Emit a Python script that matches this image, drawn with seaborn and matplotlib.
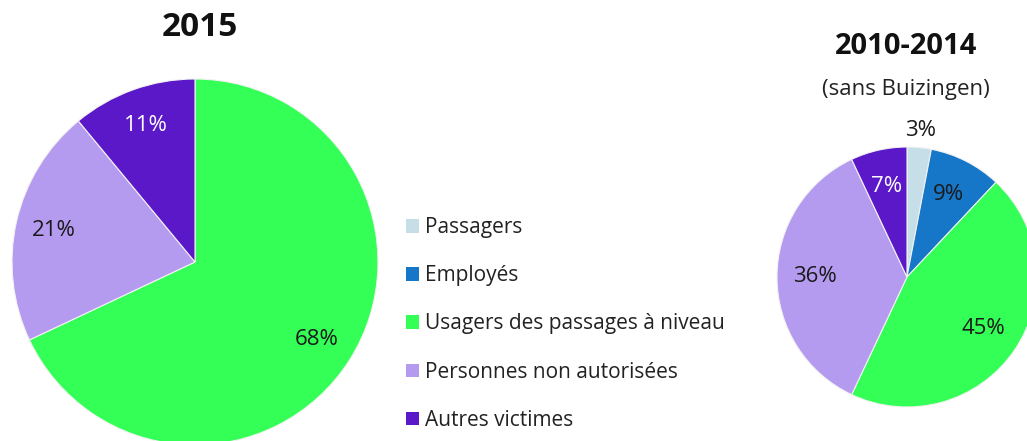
import matplotlib
matplotlib.use("Agg")
import matplotlib.pyplot as plt
import seaborn as sns
import numpy as np
from matplotlib.patches import Patch

categories = ["Passagers", "Employés", "Usagers des passages à niveau",
              "Personnes non autorisées", "Autres victimes"]
values_2015 = [0, 0, 68, 21, 11]
values_2010_2014 = [3, 9, 45, 36, 7]
title_2015 = "2015"
title_2010 = "2010-2014"
subtitle_2010 = "(sans Buizingen)"

colors = ["#c6dee8", "#1676c8", "#33ff57", "#b49bf0", "#5a18c8"]
label_colors = ["#1a1a1a", "#1a1a1a", "#1a1a1a", "#1a1a1a", "#ffffff"]

sns.set_theme(style="white")
plt.rcParams["font.family"] = ["Open Sans", "DejaVu Sans"]
palette = sns.color_palette(colors)

W, H = 1027, 441
fig = plt.figure(figsize=(W / 100, H / 100), dpi=100)
fig.patch.set_facecolor("white")


def add_pie(cx, cy, r, values, pctdist, outside_thresh, fontsize):
    ax = fig.add_axes([(cx - r) / W, (H - cy - r) / H, 2 * r / W, 2 * r / H])
    ax.set_aspect("equal")
    wedges, texts, autotexts = ax.pie(
        values, colors=palette, startangle=90, counterclock=False,
        autopct=lambda p: f"{p:.0f}%" if p > 0 else "",
        pctdistance=pctdist, radius=1.0,
        wedgeprops=dict(edgecolor="#f2f2f2", linewidth=0.8),
        textprops=dict(fontsize=fontsize))
    for i, (w, t) in enumerate(zip(wedges, autotexts)):
        t.set_color(label_colors[i])
        if 0 < values[i] < outside_thresh:
            ang = np.deg2rad((w.theta1 + w.theta2) / 2)
            t.set_position((1.13 * np.cos(ang), 1.13 * np.sin(ang)))
            t.set_color("#1a1a1a")
    ax.set_xlim(-1, 1)
    ax.set_ylim(-1, 1)
    ax.axis("off")
    return ax


add_pie(195, 262, 183, values_2015, 0.79, 0, 16)
add_pie(907, 277, 130, values_2010_2014, 0.71, 5, 16)

fig.text(200 / W, 1 - 27 / H, title_2015, ha="center", va="center",
         fontsize=24, fontweight="bold", color="#111111")
fig.text(906 / W, 1 - 47 / H, title_2010, ha="center", va="center",
         fontsize=21, fontweight="bold", color="#111111")
fig.text(906 / W, 1 - 89 / H, subtitle_2010, ha="center", va="center",
         fontsize=16, color="#222222")

handles = [Patch(facecolor=c, edgecolor="none") for c in colors]
fig.legend(handles, categories, loc="center left",
           bbox_to_anchor=(406 / W, 1 - 324 / H), frameon=False,
           fontsize=15, handlelength=0.62, handleheight=0.62,
           handletextpad=0.3, labelspacing=1.3, borderpad=0,
           borderaxespad=0, labelcolor="#222222")

fig.savefig("out.png", dpi=100, facecolor="white")
